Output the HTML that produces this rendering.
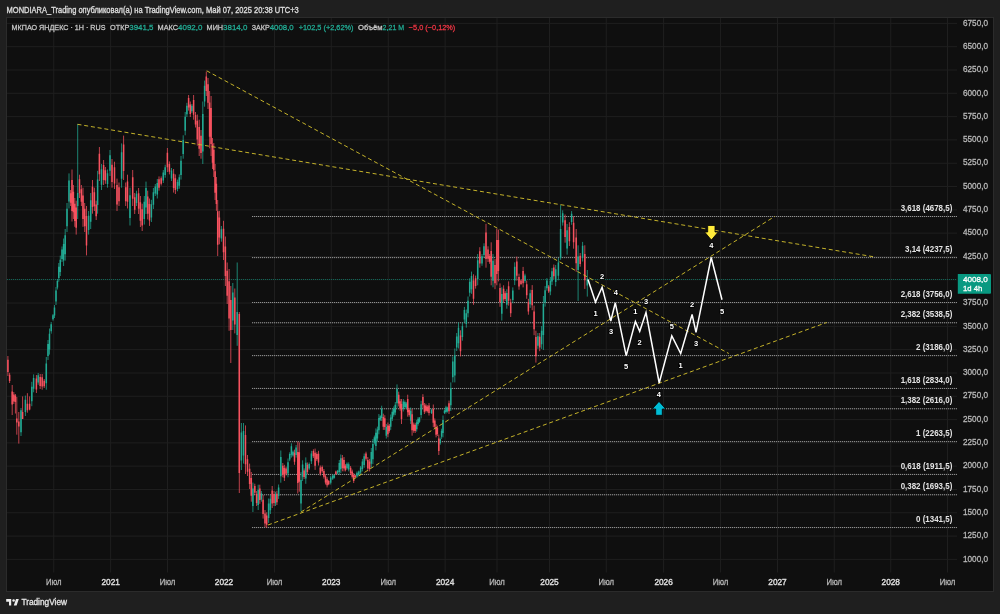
<!DOCTYPE html>
<html><head><meta charset="utf-8"><title>МКПАО ЯНДЕКС chart</title>
<style>html,body{margin:0;padding:0;background:#1f1f1f;width:1000px;height:614px;overflow:hidden}svg{display:block}text{font-family:"Liberation Sans",Arial,sans-serif}</style></head><body>
<svg width="1000" height="614" viewBox="0 0 1000 614">
<rect x="0" y="0" width="1000" height="614" fill="#1f1f1f"/>
<rect x="6.5" y="17.5" width="987" height="574" fill="#0f0f0f" stroke="#2b2b2b" stroke-width="1"/>
<path d="M53.75 18V572.5M110.65 18V572.5M167.50 18V572.5M224.00 18V572.5M274.50 18V572.5M331.25 18V572.5M388.30 18V572.5M445.10 18V572.5M497.00 18V572.5M549.50 18V572.5M606.25 18V572.5M663.60 18V572.5M720.55 18V572.5M777.50 18V572.5M834.25 18V572.5M890.75 18V572.5M947.50 18V572.5M7 23.40H957M7 46.70H957M7 70.01H957M7 93.31H957M7 116.62H957M7 139.92H957M7 163.22H957M7 186.53H957M7 209.83H957M7 233.14H957M7 256.44H957M7 279.75H957M7 303.05H957M7 326.35H957M7 349.66H957M7 372.96H957M7 396.27H957M7 419.57H957M7 442.87H957M7 466.18H957M7 489.48H957M7 512.79H957M7 536.09H957M7 559.39H957" stroke="#1f1f1f" stroke-width="1" fill="none"/>
<path d="M252 216.50H957M252 257.61H957M252 302.49H957M252 322.76H957M252 355.62H957M252 388.44H957M252 408.76H957M252 441.62H957M252 474.43H957M252 494.75H957M252 527.56H957" stroke="#2e2e2e" stroke-width="1" fill="none"/>
<path d="M252 216.50H957M252 257.61H957M252 302.49H957M252 322.76H957M252 355.62H957M252 388.44H957M252 408.76H957M252 441.62H957M252 474.43H957M252 494.75H957M252 527.56H957" stroke="#929292" stroke-width="1" stroke-dasharray="1 1" fill="none"/>
<path d="M7 279.5H957" stroke="#089981" stroke-width="1" stroke-dasharray="1 1" fill="none" opacity="0.6"/>
<path d="M21.00 408.00V436.00M25.40 395.60V416.00M31.80 381.80V406.20M33.60 374.40V392.30M38.20 373.00V384.80M46.30 357.00V389.70M48.00 340.00V360.00M49.50 328.50V354.60M51.20 322.00V333.70M53.00 314.00V320.70M54.50 305.00V318.00M56.00 287.00V305.00M57.40 279.00V289.50M58.80 263.00V281.70M60.30 255.60V276.00M62.00 246.50V262.00M63.60 238.50V266.00M65.20 229.00V260.60M67.00 203.00V232.00M69.00 173.40V208.50M77.70 124.00V219.00M88.60 211.00V234.60M90.70 193.00V229.00M97.60 170.80V213.70M101.50 164.00V190.00M107.50 169.50V187.70M110.00 150.00V176.00M121.60 143.40V187.70M130.00 187.70V225.50M136.50 190.70V206.00M144.30 196.00V224.60M146.00 181.60V214.00M151.40 199.80V222.00M153.40 188.00V209.00M155.30 184.00V196.00M157.30 179.00V198.50M163.30 170.00V183.00M165.20 164.70V177.70M171.50 168.00V181.00M177.50 179.60V191.30M179.30 174.40V188.70M181.00 156.00V179.60M183.20 135.30V158.70M185.20 112.00V135.30M186.90 102.80V117.00M191.90 104.00V113.00M202.80 101.50V164.00M204.60 80.60V106.70M221.40 226.00V241.70M232.80 283.00V330.00M237.20 262.50V345.80M241.40 423.00V470.00M243.50 423.00V463.60M252.90 482.60V512.00M258.20 484.70V510.00M261.40 491.00V501.70M268.60 498.50V522.90M270.40 495.00V514.00M275.50 491.70V506.00M278.60 484.50V498.90M280.80 450.50V482.70M288.00 458.50V477.30M289.70 452.30V461.20M291.40 443.30V457.60M293.00 450.50V456.70M296.10 445.00V457.60M301.00 472.00V511.40M302.60 460.30V481.00M305.80 457.40V483.80M309.20 462.50V469.90M311.40 450.80V464.00M330.70 475.70V484.50M332.70 474.30V480.00M334.30 474.30V478.60M337.60 469.90V474.30M339.30 460.00V475.00M340.80 454.50V473.00M347.00 462.40V469.60M348.70 462.40V471.40M357.00 471.40V477.70M358.80 470.50V475.90M360.60 466.00V474.00M362.40 458.90V471.40M364.20 453.50V467.80M371.30 448.00V467.80M372.90 439.00V464.20M374.40 435.50V444.50M375.90 428.40V450.40M377.40 426.60V441.60M378.90 414.00V434.30M380.30 415.20V421.00M381.70 405.70V421.00M386.30 424.00V438.60M390.70 414.50V429.90M392.30 409.30V421.00M393.80 406.40V416.70M395.30 402.00V415.20M397.00 384.40V407.90M403.30 399.00V411.50M404.90 400.50V408.60M406.30 402.00V409.30M410.70 407.50V424.00M416.70 419.90V431.60M418.10 417.00V425.70M419.50 417.00V422.80M421.10 400.80V418.40M431.50 408.90V414.00M440.20 437.40V444.80M441.60 428.70V438.90M443.00 415.50V437.40M444.50 409.60V414.00M446.00 405.80V413.60M447.50 406.70V412.50M450.80 382.40V411.00M452.80 356.40V382.40M454.80 348.50V382.40M456.70 333.00V351.00M458.50 322.50V348.50M462.40 322.50V340.70M464.40 306.90V322.50M466.30 309.50V327.70M468.00 296.50V317.30M469.70 278.20V296.50M471.50 271.60V293.80M477.70 254.00V285.30M482.00 254.00V265.80M484.00 243.30V258.00M493.00 254.00V287.30M501.80 287.30V320.50M506.80 289.20V308.70M512.80 287.40V303.30M514.70 262.30V285.10M525.00 273.70V282.80M530.20 289.70V307.90M537.90 333.00V348.90M541.60 326.10V348.90M543.40 296.00V350.00M545.10 286.10V306.60M546.90 278.10V290.70M550.40 277.00V295.20M552.00 267.90V285.00M555.70 265.00V286.30M558.40 258.00V280.30M560.60 205.10V259.80M562.70 210.30V225.60M567.10 224.00V254.70M571.60 211.10V224.80M578.10 245.30V300.90M582.60 241.90V261.50M587.30 270.00V296.60" stroke="#22ab94" stroke-width="0.75" fill="none"/>
<path d="M7.90 356.00V376.00M9.60 372.80V383.00M12.20 385.00V415.00M13.80 392.00V404.00M15.40 394.00V413.50M16.80 397.00V434.70M18.80 412.00V443.60M22.60 396.40V418.40M27.40 393.20V412.70M29.60 396.40V410.30M36.40 375.00V393.00M40.20 374.00V389.00M42.20 374.00V389.70M44.20 379.00V388.00M70.60 190.00V206.00M72.00 169.50V221.50M73.40 185.00V219.00M74.80 198.00V226.80M76.20 200.70V234.60M79.50 174.70V198.00M81.40 185.00V206.00M83.00 187.70V226.80M84.70 203.00V232.00M86.50 206.00V255.40M92.50 180.00V213.70M94.40 187.70V211.00M96.20 200.70V220.00M99.40 147.00V181.00M103.60 160.00V185.00M105.40 167.00V183.80M112.00 159.00V187.70M114.50 161.70V189.00M117.00 178.60V211.00M119.00 182.50V206.00M123.60 135.60V180.00M125.70 182.50V206.00M127.50 174.70V208.50M132.70 170.00V206.00M134.70 193.00V214.00M138.60 188.00V214.00M140.40 196.00V227.00M142.20 203.70V231.00M147.70 190.70V219.40M149.50 198.50V225.90M159.00 176.40V190.70M161.20 176.40V185.50M167.40 148.00V172.00M169.40 161.40V174.40M173.60 169.00V192.60M175.40 174.40V194.00M188.60 95.00V110.60M190.30 101.50V117.00M193.60 95.00V119.70M195.50 112.00V127.50M197.30 114.50V145.70M199.20 119.70V156.00M201.00 130.00V158.70M206.30 71.50V96.00M208.00 78.00V109.00M209.60 91.00V148.30M211.10 96.00V156.00M212.50 138.00V169.00M213.80 143.00V177.00M215.10 164.00V200.00M216.40 177.00V210.80M217.70 200.00V256.00M219.40 210.80V244.30M223.50 220.80V260.00M225.40 236.50V286.00M227.20 262.50V304.00M229.10 269.00V330.80M230.80 286.00V363.00M234.80 288.50V333.40M239.30 312.00V493.00M245.50 425.40V474.00M247.50 455.00V476.00M249.60 463.60V489.00M251.30 472.00V501.70M254.80 483.70V495.00M256.60 491.00V506.00M259.80 484.70V503.80M263.10 495.00V518.60M265.00 510.00V527.00M266.70 512.30V528.00M272.20 486.00V508.00M274.00 491.00V506.00M276.90 490.80V505.00M282.80 463.00V477.30M284.40 464.80V481.00M286.10 466.60V475.50M294.50 449.60V464.80M297.80 441.50V493.50M299.30 442.40V491.70M304.10 468.40V479.00M307.40 462.50V474.30M313.40 449.30V458.00M315.10 448.60V469.90M316.80 452.30V461.00M318.50 450.80V465.50M320.30 465.50V475.70M322.20 465.50V472.80M323.90 469.00V478.60M325.50 474.30V484.50M327.10 477.20V487.40M328.70 480.00V485.20M335.90 470.60V475.00M342.40 455.00V471.30M344.00 457.00V471.40M345.50 464.20V471.40M350.60 466.00V475.00M352.20 469.60V478.60M353.70 473.00V483.00M355.30 475.00V477.70M366.00 451.70V460.60M367.80 457.00V471.40M369.60 458.90V471.40M383.30 413.70V429.90M384.80 415.20V429.90M387.90 422.50V437.20M389.30 424.00V432.80M398.70 391.70V406.40M400.10 399.00V410.80M401.50 399.00V424.00M407.70 394.70V416.70M409.20 407.90V416.70M412.10 408.90V435.70M413.70 422.50V432.80M415.20 422.80V433.00M422.90 394.20V408.00M424.40 403.00V414.00M425.90 403.70V412.50M427.40 405.20V412.50M429.00 403.00V415.50M433.30 404.50V427.20M434.80 418.40V428.70M436.10 424.30V437.40M437.40 425.70V436.00M438.80 434.50V455.00M449.00 400.60V414.00M460.50 330.30V356.40M473.50 274.30V304.80M475.60 275.60V288.60M479.80 247.20V267.70M486.00 223.80V267.70M488.00 246.30V262.00M489.60 254.00V263.80M491.20 242.30V285.30M495.00 259.00V289.20M496.80 228.70V285.30M498.40 229.60V281.40M500.00 283.40V306.80M503.60 285.30V302.90M505.20 291.20V301.00M508.60 281.40V305.60M510.70 298.80V317.00M516.80 256.60V280.60M519.00 273.70V289.70M521.00 279.40V285.10M523.10 266.90V287.40M526.70 280.60V298.80M528.40 298.80V314.70M532.20 285.10V310.20M534.10 305.60V335.20M535.90 330.70V362.60M539.70 333.00V351.20M548.70 285.00V293.00M553.80 264.50V279.30M565.10 214.50V242.70M569.40 222.20V246.00M573.60 216.20V248.70M576.20 229.00V271.80M580.20 253.00V266.70M584.80 245.30V288.90" stroke="#f7525f" stroke-width="0.75" fill="none"/>
<path d="M20.25 410.30h1.50v21.90h-1.50zM24.65 399.68h1.50v12.24h-1.50zM31.05 386.68h1.50v14.64h-1.50zM32.85 377.98h1.50v10.74h-1.50zM37.45 375.36h1.50v7.08h-1.50zM45.55 363.54h1.50v19.62h-1.50zM47.25 344.00h1.50v12.00h-1.50zM48.75 333.72h1.50v15.66h-1.50zM50.45 324.34h1.50v7.02h-1.50zM52.25 315.34h1.50v4.02h-1.50zM53.75 307.60h1.50v7.80h-1.50zM55.25 290.60h1.50v10.80h-1.50zM56.65 281.10h1.50v6.30h-1.50zM58.05 266.74h1.50v11.22h-1.50zM59.55 259.68h1.50v12.24h-1.50zM61.25 249.60h1.50v9.30h-1.50zM62.85 244.00h1.50v16.50h-1.50zM64.45 235.32h1.50v18.96h-1.50zM66.25 208.80h1.50v17.40h-1.50zM68.25 180.42h1.50v21.06h-1.50zM76.95 193.00h1.50v13.00h-1.50zM87.85 215.72h1.50v14.16h-1.50zM89.95 200.20h1.50v21.60h-1.50zM96.85 179.38h1.50v25.74h-1.50zM100.75 169.20h1.50v15.60h-1.50zM106.75 173.14h1.50v10.92h-1.50zM109.25 155.20h1.50v15.60h-1.50zM120.85 152.26h1.50v26.58h-1.50zM129.25 195.26h1.50v22.68h-1.50zM135.75 193.76h1.50v9.18h-1.50zM143.55 201.72h1.50v17.16h-1.50zM145.25 188.08h1.50v19.44h-1.50zM150.65 204.24h1.50v13.32h-1.50zM152.65 192.20h1.50v12.60h-1.50zM154.55 186.40h1.50v7.20h-1.50zM156.55 182.90h1.50v11.70h-1.50zM162.55 172.60h1.50v7.80h-1.50zM164.45 167.30h1.50v7.80h-1.50zM170.75 170.60h1.50v7.80h-1.50zM176.75 181.94h1.50v7.02h-1.50zM178.55 177.26h1.50v8.58h-1.50zM180.25 160.72h1.50v14.16h-1.50zM182.45 139.98h1.50v14.04h-1.50zM184.45 116.66h1.50v13.98h-1.50zM186.15 105.64h1.50v8.52h-1.50zM191.15 105.80h1.50v5.40h-1.50zM202.05 114.00h1.50v37.50h-1.50zM203.85 85.82h1.50v15.66h-1.50zM220.65 229.14h1.50v9.42h-1.50zM232.05 292.40h1.50v28.20h-1.50zM236.45 312.00h1.50v23.00h-1.50zM240.65 432.40h1.50v28.20h-1.50zM242.75 431.12h1.50v24.36h-1.50zM252.15 488.48h1.50v17.64h-1.50zM257.45 489.76h1.50v15.18h-1.50zM260.65 493.14h1.50v6.42h-1.50zM267.85 503.38h1.50v14.64h-1.50zM269.65 498.80h1.50v11.40h-1.50zM274.75 494.56h1.50v8.58h-1.50zM277.85 487.38h1.50v8.64h-1.50zM280.05 456.94h1.50v19.32h-1.50zM287.25 462.26h1.50v11.28h-1.50zM288.95 454.08h1.50v5.34h-1.50zM290.65 446.16h1.50v8.58h-1.50zM292.25 451.74h1.50v3.72h-1.50zM295.35 447.52h1.50v7.56h-1.50zM300.25 479.88h1.50v23.64h-1.50zM301.85 464.44h1.50v12.42h-1.50zM305.05 462.68h1.50v15.84h-1.50zM308.45 463.98h1.50v4.44h-1.50zM310.65 453.44h1.50v7.92h-1.50zM329.95 477.46h1.50v5.28h-1.50zM331.95 475.44h1.50v3.42h-1.50zM333.55 475.16h1.50v2.58h-1.50zM336.85 470.78h1.50v2.64h-1.50zM338.55 463.00h1.50v9.00h-1.50zM340.05 458.20h1.50v11.10h-1.50zM346.25 463.84h1.50v4.32h-1.50zM347.95 464.20h1.50v5.40h-1.50zM356.25 472.66h1.50v3.78h-1.50zM358.05 471.58h1.50v3.24h-1.50zM359.85 467.60h1.50v4.80h-1.50zM361.65 461.40h1.50v7.50h-1.50zM363.45 456.36h1.50v8.58h-1.50zM370.55 451.96h1.50v11.88h-1.50zM372.15 444.04h1.50v15.12h-1.50zM373.65 437.30h1.50v5.40h-1.50zM375.15 432.80h1.50v13.20h-1.50zM376.65 429.60h1.50v9.00h-1.50zM378.15 418.06h1.50v12.18h-1.50zM379.55 416.36h1.50v3.48h-1.50zM380.95 408.76h1.50v9.18h-1.50zM385.55 426.92h1.50v8.76h-1.50zM389.95 417.58h1.50v9.24h-1.50zM391.55 411.64h1.50v7.02h-1.50zM393.05 408.46h1.50v6.18h-1.50zM394.55 404.64h1.50v7.92h-1.50zM396.25 389.10h1.50v14.10h-1.50zM402.55 401.50h1.50v7.50h-1.50zM404.15 402.12h1.50v4.86h-1.50zM405.55 403.46h1.50v4.38h-1.50zM409.95 410.80h1.50v9.90h-1.50zM415.95 422.24h1.50v7.02h-1.50zM417.35 418.74h1.50v5.22h-1.50zM418.75 418.16h1.50v3.48h-1.50zM420.35 404.32h1.50v10.56h-1.50zM430.75 409.92h1.50v3.06h-1.50zM439.45 438.88h1.50v4.44h-1.50zM440.85 430.74h1.50v6.12h-1.50zM442.25 419.88h1.50v13.14h-1.50zM443.75 410.48h1.50v2.64h-1.50zM445.25 407.36h1.50v4.68h-1.50zM446.75 407.86h1.50v3.48h-1.50zM450.05 388.12h1.50v17.16h-1.50zM452.05 361.60h1.50v15.60h-1.50zM454.05 355.28h1.50v20.34h-1.50zM455.95 336.60h1.50v10.80h-1.50zM457.75 327.70h1.50v15.60h-1.50zM461.65 326.14h1.50v10.92h-1.50zM463.65 310.02h1.50v9.36h-1.50zM465.55 313.14h1.50v10.92h-1.50zM467.25 300.66h1.50v12.48h-1.50zM468.95 281.86h1.50v10.98h-1.50zM470.75 276.04h1.50v13.32h-1.50zM476.95 260.26h1.50v18.78h-1.50zM481.25 256.36h1.50v7.08h-1.50zM483.25 246.24h1.50v8.82h-1.50zM492.25 260.66h1.50v19.98h-1.50zM501.05 293.94h1.50v19.92h-1.50zM506.05 293.10h1.50v11.70h-1.50zM512.05 290.58h1.50v9.54h-1.50zM513.95 266.86h1.50v13.68h-1.50zM524.25 275.52h1.50v5.46h-1.50zM529.45 293.34h1.50v10.92h-1.50zM537.15 336.18h1.50v9.54h-1.50zM540.85 330.66h1.50v13.68h-1.50zM542.65 304.00h1.50v31.00h-1.50zM544.35 290.20h1.50v12.30h-1.50zM546.15 280.62h1.50v7.56h-1.50zM549.65 280.64h1.50v10.92h-1.50zM551.25 271.32h1.50v10.26h-1.50zM554.95 269.26h1.50v12.78h-1.50zM557.65 262.46h1.50v13.38h-1.50zM559.85 229.00h1.50v29.00h-1.50zM561.95 213.36h1.50v9.18h-1.50zM566.35 230.14h1.50v18.42h-1.50zM570.85 213.84h1.50v8.22h-1.50zM577.35 256.40h1.50v13.60h-1.50zM581.85 245.82h1.50v11.76h-1.50zM586.55 278.60h1.50v6.90h-1.50z" fill="#22ab94"/>
<path d="M7.15 359.80h1.50v12.20h-1.50zM8.85 374.84h1.50v6.12h-1.50zM11.45 391.50h1.50v13.00h-1.50zM13.05 394.40h1.50v7.20h-1.50zM14.65 395.60h1.50v6.40h-1.50zM16.05 418.40h1.50v4.10h-1.50zM18.05 421.60h1.50v4.90h-1.50zM21.85 412.00h1.50v7.00h-1.50zM26.65 403.70h1.50v6.60h-1.50zM28.85 403.70h1.50v5.70h-1.50zM35.65 378.60h1.50v10.80h-1.50zM39.45 377.00h1.50v9.00h-1.50zM41.45 377.14h1.50v9.42h-1.50zM43.45 380.80h1.50v5.40h-1.50zM69.85 193.20h1.50v9.60h-1.50zM71.25 179.90h1.50v31.20h-1.50zM72.65 191.80h1.50v20.40h-1.50zM74.05 203.76h1.50v17.28h-1.50zM75.45 207.48h1.50v20.34h-1.50zM78.75 179.36h1.50v13.98h-1.50zM80.65 189.20h1.50v12.60h-1.50zM82.25 195.52h1.50v23.46h-1.50zM83.95 208.80h1.50v17.40h-1.50zM85.75 215.88h1.50v29.64h-1.50zM91.75 186.74h1.50v20.22h-1.50zM93.65 192.36h1.50v13.98h-1.50zM95.45 204.56h1.50v11.58h-1.50zM98.65 153.80h1.50v20.40h-1.50zM102.85 165.00h1.50v15.00h-1.50zM104.65 170.36h1.50v10.08h-1.50zM111.25 164.74h1.50v17.22h-1.50zM113.75 167.16h1.50v16.38h-1.50zM116.25 185.08h1.50v19.44h-1.50zM118.25 187.20h1.50v14.10h-1.50zM122.85 144.48h1.50v26.64h-1.50zM124.95 187.20h1.50v14.10h-1.50zM126.75 181.46h1.50v20.28h-1.50zM131.95 177.20h1.50v21.60h-1.50zM133.95 197.20h1.50v12.60h-1.50zM137.85 193.20h1.50v15.60h-1.50zM139.65 202.20h1.50v18.60h-1.50zM141.45 209.16h1.50v16.38h-1.50zM146.95 196.44h1.50v17.22h-1.50zM148.75 203.98h1.50v16.44h-1.50zM158.25 179.26h1.50v8.58h-1.50zM160.45 178.22h1.50v5.46h-1.50zM166.65 152.80h1.50v14.40h-1.50zM168.65 164.00h1.50v7.80h-1.50zM172.85 173.72h1.50v14.16h-1.50zM174.65 178.32h1.50v11.76h-1.50zM187.85 98.12h1.50v9.36h-1.50zM189.55 104.60h1.50v9.30h-1.50zM192.85 99.94h1.50v14.82h-1.50zM194.75 115.10h1.50v9.30h-1.50zM196.55 120.74h1.50v18.72h-1.50zM198.45 126.96h1.50v21.78h-1.50zM200.25 135.74h1.50v17.22h-1.50zM205.55 76.40h1.50v14.70h-1.50zM207.25 84.20h1.50v18.60h-1.50zM208.85 102.46h1.50v34.38h-1.50zM210.35 108.00h1.50v36.00h-1.50zM211.75 144.20h1.50v18.60h-1.50zM213.05 149.80h1.50v20.40h-1.50zM214.35 171.20h1.50v21.60h-1.50zM215.65 183.76h1.50v20.28h-1.50zM216.95 211.20h1.50v33.60h-1.50zM218.65 217.50h1.50v20.10h-1.50zM222.75 228.64h1.50v23.52h-1.50zM224.65 246.40h1.50v29.70h-1.50zM226.45 270.80h1.50v24.90h-1.50zM228.35 281.36h1.50v37.08h-1.50zM230.05 300.00h1.50v30.00h-1.50zM234.05 297.48h1.50v26.94h-1.50zM238.55 314.00h1.50v159.00h-1.50zM244.75 435.12h1.50v29.16h-1.50zM246.75 459.20h1.50v12.60h-1.50zM248.85 468.68h1.50v15.24h-1.50zM250.55 477.94h1.50v17.82h-1.50zM254.05 485.96h1.50v6.78h-1.50zM255.85 494.00h1.50v9.00h-1.50zM259.05 488.52h1.50v11.46h-1.50zM262.35 499.72h1.50v14.16h-1.50zM264.25 513.40h1.50v10.20h-1.50zM265.95 515.44h1.50v9.42h-1.50zM271.45 490.40h1.50v13.20h-1.50zM273.25 494.00h1.50v9.00h-1.50zM276.15 493.64h1.50v8.52h-1.50zM282.05 465.86h1.50v8.58h-1.50zM283.65 468.04h1.50v9.72h-1.50zM285.35 468.38h1.50v5.34h-1.50zM293.75 452.64h1.50v9.12h-1.50zM297.05 451.90h1.50v31.20h-1.50zM298.55 452.26h1.50v29.58h-1.50zM303.35 470.52h1.50v6.36h-1.50zM306.65 464.86h1.50v7.08h-1.50zM312.65 451.04h1.50v5.22h-1.50zM314.35 452.86h1.50v12.78h-1.50zM316.05 454.04h1.50v5.22h-1.50zM317.75 453.74h1.50v8.82h-1.50zM319.55 467.54h1.50v6.12h-1.50zM321.45 466.96h1.50v4.38h-1.50zM323.15 470.92h1.50v5.76h-1.50zM324.75 476.34h1.50v6.12h-1.50zM326.35 479.24h1.50v6.12h-1.50zM327.95 481.04h1.50v3.12h-1.50zM335.15 471.48h1.50v2.64h-1.50zM341.65 458.26h1.50v9.78h-1.50zM343.25 459.88h1.50v8.64h-1.50zM344.75 465.64h1.50v4.32h-1.50zM349.85 467.80h1.50v5.40h-1.50zM351.45 471.40h1.50v5.40h-1.50zM352.95 475.00h1.50v6.00h-1.50zM354.55 475.54h1.50v1.62h-1.50zM365.25 453.48h1.50v5.34h-1.50zM367.05 459.88h1.50v8.64h-1.50zM368.85 461.40h1.50v7.50h-1.50zM382.55 416.94h1.50v9.72h-1.50zM384.05 418.14h1.50v8.82h-1.50zM387.15 425.44h1.50v8.82h-1.50zM388.55 425.76h1.50v5.28h-1.50zM397.95 394.64h1.50v8.82h-1.50zM399.35 401.36h1.50v7.08h-1.50zM400.75 404.00h1.50v15.00h-1.50zM406.95 399.10h1.50v13.20h-1.50zM408.45 409.66h1.50v5.28h-1.50zM411.35 414.26h1.50v16.08h-1.50zM412.95 424.56h1.50v6.18h-1.50zM414.45 424.84h1.50v6.12h-1.50zM422.15 396.96h1.50v8.28h-1.50zM423.65 405.20h1.50v6.60h-1.50zM425.15 405.46h1.50v5.28h-1.50zM426.65 406.66h1.50v4.38h-1.50zM428.25 405.50h1.50v7.50h-1.50zM432.55 409.04h1.50v13.62h-1.50zM434.05 420.46h1.50v6.18h-1.50zM435.35 426.92h1.50v7.86h-1.50zM436.65 427.76h1.50v6.18h-1.50zM438.05 438.60h1.50v12.30h-1.50zM448.25 403.28h1.50v8.04h-1.50zM459.75 335.52h1.50v15.66h-1.50zM472.75 280.40h1.50v18.30h-1.50zM474.85 278.20h1.50v7.80h-1.50zM479.05 251.30h1.50v12.30h-1.50zM485.25 232.58h1.50v26.34h-1.50zM487.25 249.44h1.50v9.42h-1.50zM488.85 255.96h1.50v5.88h-1.50zM490.45 250.90h1.50v25.80h-1.50zM494.25 265.04h1.50v18.12h-1.50zM496.05 240.02h1.50v33.96h-1.50zM497.65 239.96h1.50v31.08h-1.50zM499.25 288.08h1.50v14.04h-1.50zM502.85 288.82h1.50v10.56h-1.50zM504.45 293.16h1.50v5.88h-1.50zM507.85 286.24h1.50v14.52h-1.50zM509.95 302.44h1.50v10.92h-1.50zM516.05 261.40h1.50v14.40h-1.50zM518.25 276.90h1.50v9.60h-1.50zM520.25 280.54h1.50v3.42h-1.50zM522.35 271.00h1.50v12.30h-1.50zM525.95 284.24h1.50v10.92h-1.50zM527.65 301.98h1.50v9.54h-1.50zM531.45 290.12h1.50v15.06h-1.50zM533.35 311.52h1.50v17.76h-1.50zM535.15 337.08h1.50v19.14h-1.50zM538.95 336.64h1.50v10.92h-1.50zM547.95 286.60h1.50v4.80h-1.50zM553.05 267.46h1.50v8.88h-1.50zM564.35 220.14h1.50v16.92h-1.50zM568.65 226.96h1.50v14.28h-1.50zM572.85 222.70h1.50v19.50h-1.50zM575.45 237.56h1.50v25.68h-1.50zM579.45 255.74h1.50v8.22h-1.50zM584.05 254.02h1.50v26.16h-1.50z" fill="#f7525f"/>
<path d="M77.50 124.30L874.50 256.90M206.70 70.80L728.80 353.50M301.00 512.00L774.80 216.40M268.00 525.00L826.70 322.50" stroke="#cdbb2b" stroke-width="0.95" stroke-dasharray="4 2.8" fill="none"/>
<polyline points="588.0,279.4 595.5,302.1 602.1,287.3 610.8,321.0 615.3,302.8 626.2,355.7 635.4,321.5 639.7,331.3 646.0,312.5 659.2,383.0 671.8,335.8 680.7,353.5 692.1,314.5 696.0,332.4 711.2,257.5 722.0,299.8" stroke="#ffffff" stroke-width="1.5" fill="none" stroke-linejoin="miter"/>
<text x="595.5" y="313.5" font-size="7.5" font-weight="bold" fill="#ffffff" text-anchor="middle" dominant-baseline="central" stroke="#000" stroke-width="1.6" paint-order="stroke">1</text>
<text x="602.0" y="276.4" font-size="7.5" font-weight="bold" fill="#ffffff" text-anchor="middle" dominant-baseline="central" stroke="#000" stroke-width="1.6" paint-order="stroke">2</text>
<text x="611.2" y="331.8" font-size="7.5" font-weight="bold" fill="#ffffff" text-anchor="middle" dominant-baseline="central" stroke="#000" stroke-width="1.6" paint-order="stroke">3</text>
<text x="615.8" y="292.6" font-size="7.5" font-weight="bold" fill="#ffffff" text-anchor="middle" dominant-baseline="central" stroke="#000" stroke-width="1.6" paint-order="stroke">4</text>
<text x="626.2" y="366.0" font-size="7.5" font-weight="bold" fill="#ffffff" text-anchor="middle" dominant-baseline="central" stroke="#000" stroke-width="1.6" paint-order="stroke">5</text>
<text x="635.4" y="311.3" font-size="7.5" font-weight="bold" fill="#ffffff" text-anchor="middle" dominant-baseline="central" stroke="#000" stroke-width="1.6" paint-order="stroke">1</text>
<text x="639.7" y="342.5" font-size="7.5" font-weight="bold" fill="#ffffff" text-anchor="middle" dominant-baseline="central" stroke="#000" stroke-width="1.6" paint-order="stroke">2</text>
<text x="646.0" y="301.5" font-size="7.5" font-weight="bold" fill="#ffffff" text-anchor="middle" dominant-baseline="central" stroke="#000" stroke-width="1.6" paint-order="stroke">3</text>
<text x="658.8" y="394.2" font-size="7.5" font-weight="bold" fill="#ffffff" text-anchor="middle" dominant-baseline="central" stroke="#000" stroke-width="1.6" paint-order="stroke">4</text>
<text x="671.8" y="326.0" font-size="7.5" font-weight="bold" fill="#ffffff" text-anchor="middle" dominant-baseline="central" stroke="#000" stroke-width="1.6" paint-order="stroke">5</text>
<text x="680.7" y="365.0" font-size="7.5" font-weight="bold" fill="#ffffff" text-anchor="middle" dominant-baseline="central" stroke="#000" stroke-width="1.6" paint-order="stroke">1</text>
<text x="692.1" y="304.0" font-size="7.5" font-weight="bold" fill="#ffffff" text-anchor="middle" dominant-baseline="central" stroke="#000" stroke-width="1.6" paint-order="stroke">2</text>
<text x="696.0" y="343.8" font-size="7.5" font-weight="bold" fill="#ffffff" text-anchor="middle" dominant-baseline="central" stroke="#000" stroke-width="1.6" paint-order="stroke">3</text>
<text x="711.4" y="245.8" font-size="7.5" font-weight="bold" fill="#ffffff" text-anchor="middle" dominant-baseline="central" stroke="#000" stroke-width="1.6" paint-order="stroke">4</text>
<text x="722.0" y="311.2" font-size="7.5" font-weight="bold" fill="#ffffff" text-anchor="middle" dominant-baseline="central" stroke="#000" stroke-width="1.6" paint-order="stroke">5</text>
<path d="M707.7 225.5H715V232H718.2L711.4 240L704.6 232H707.7Z" fill="#ffeb3b" stroke="#000" stroke-width="0.8"/>
<path d="M659 401.4L665.8 409H662.3V415.3H655.7V409H652.2Z" fill="#00bcd4" stroke="#000" stroke-width="0.8"/>
<text x="952.30" y="210.60" font-size="8.70" fill="#e4e4e4" font-weight="bold" text-anchor="end" textLength="51.62" lengthAdjust="spacingAndGlyphs">3,618 (4678,5)</text>
<text x="952.30" y="251.71" font-size="8.70" fill="#e4e4e4" font-weight="bold" text-anchor="end" textLength="47.21" lengthAdjust="spacingAndGlyphs">3,14 (4237,5)</text>
<text x="952.30" y="296.59" font-size="8.70" fill="#e4e4e4" font-weight="bold" text-anchor="end" textLength="51.62" lengthAdjust="spacingAndGlyphs">2,618 (3756,0)</text>
<text x="952.30" y="316.86" font-size="8.70" fill="#e4e4e4" font-weight="bold" text-anchor="end" textLength="51.62" lengthAdjust="spacingAndGlyphs">2,382 (3538,5)</text>
<text x="952.30" y="349.72" font-size="8.70" fill="#e4e4e4" font-weight="bold" text-anchor="end" textLength="36.18" lengthAdjust="spacingAndGlyphs">2 (3186,0)</text>
<text x="952.30" y="382.54" font-size="8.70" fill="#e4e4e4" font-weight="bold" text-anchor="end" textLength="51.62" lengthAdjust="spacingAndGlyphs">1,618 (2834,0)</text>
<text x="952.30" y="402.86" font-size="8.70" fill="#e4e4e4" font-weight="bold" text-anchor="end" textLength="51.62" lengthAdjust="spacingAndGlyphs">1,382 (2616,0)</text>
<text x="952.30" y="435.72" font-size="8.70" fill="#e4e4e4" font-weight="bold" text-anchor="end" textLength="36.18" lengthAdjust="spacingAndGlyphs">1 (2263,5)</text>
<text x="952.30" y="468.53" font-size="8.70" fill="#e4e4e4" font-weight="bold" text-anchor="end" textLength="51.62" lengthAdjust="spacingAndGlyphs">0,618 (1911,5)</text>
<text x="952.30" y="488.85" font-size="8.70" fill="#e4e4e4" font-weight="bold" text-anchor="end" textLength="51.62" lengthAdjust="spacingAndGlyphs">0,382 (1693,5)</text>
<text x="952.30" y="521.66" font-size="8.70" fill="#e4e4e4" font-weight="bold" text-anchor="end" textLength="36.18" lengthAdjust="spacingAndGlyphs">0 (1341,5)</text>
<text x="988.00" y="25.60" font-size="8.50" fill="#b8b8b8" text-anchor="end" textLength="25.00" lengthAdjust="spacingAndGlyphs" stroke="#b8b8b8" stroke-width="0.28">6750,0</text>
<text x="988.00" y="48.90" font-size="8.50" fill="#b8b8b8" text-anchor="end" textLength="25.00" lengthAdjust="spacingAndGlyphs" stroke="#b8b8b8" stroke-width="0.28">6500,0</text>
<text x="988.00" y="72.21" font-size="8.50" fill="#b8b8b8" text-anchor="end" textLength="25.00" lengthAdjust="spacingAndGlyphs" stroke="#b8b8b8" stroke-width="0.28">6250,0</text>
<text x="988.00" y="95.51" font-size="8.50" fill="#b8b8b8" text-anchor="end" textLength="25.00" lengthAdjust="spacingAndGlyphs" stroke="#b8b8b8" stroke-width="0.28">6000,0</text>
<text x="988.00" y="118.82" font-size="8.50" fill="#b8b8b8" text-anchor="end" textLength="25.00" lengthAdjust="spacingAndGlyphs" stroke="#b8b8b8" stroke-width="0.28">5750,0</text>
<text x="988.00" y="142.12" font-size="8.50" fill="#b8b8b8" text-anchor="end" textLength="25.00" lengthAdjust="spacingAndGlyphs" stroke="#b8b8b8" stroke-width="0.28">5500,0</text>
<text x="988.00" y="165.42" font-size="8.50" fill="#b8b8b8" text-anchor="end" textLength="25.00" lengthAdjust="spacingAndGlyphs" stroke="#b8b8b8" stroke-width="0.28">5250,0</text>
<text x="988.00" y="188.73" font-size="8.50" fill="#b8b8b8" text-anchor="end" textLength="25.00" lengthAdjust="spacingAndGlyphs" stroke="#b8b8b8" stroke-width="0.28">5000,0</text>
<text x="988.00" y="212.03" font-size="8.50" fill="#b8b8b8" text-anchor="end" textLength="25.00" lengthAdjust="spacingAndGlyphs" stroke="#b8b8b8" stroke-width="0.28">4750,0</text>
<text x="988.00" y="235.34" font-size="8.50" fill="#b8b8b8" text-anchor="end" textLength="25.00" lengthAdjust="spacingAndGlyphs" stroke="#b8b8b8" stroke-width="0.28">4500,0</text>
<text x="988.00" y="258.64" font-size="8.50" fill="#b8b8b8" text-anchor="end" textLength="25.00" lengthAdjust="spacingAndGlyphs" stroke="#b8b8b8" stroke-width="0.28">4250,0</text>
<text x="988.00" y="281.95" font-size="8.50" fill="#b8b8b8" text-anchor="end" textLength="25.00" lengthAdjust="spacingAndGlyphs" stroke="#b8b8b8" stroke-width="0.28">4000,0</text>
<text x="988.00" y="305.25" font-size="8.50" fill="#b8b8b8" text-anchor="end" textLength="25.00" lengthAdjust="spacingAndGlyphs" stroke="#b8b8b8" stroke-width="0.28">3750,0</text>
<text x="988.00" y="328.55" font-size="8.50" fill="#b8b8b8" text-anchor="end" textLength="25.00" lengthAdjust="spacingAndGlyphs" stroke="#b8b8b8" stroke-width="0.28">3500,0</text>
<text x="988.00" y="351.86" font-size="8.50" fill="#b8b8b8" text-anchor="end" textLength="25.00" lengthAdjust="spacingAndGlyphs" stroke="#b8b8b8" stroke-width="0.28">3250,0</text>
<text x="988.00" y="375.16" font-size="8.50" fill="#b8b8b8" text-anchor="end" textLength="25.00" lengthAdjust="spacingAndGlyphs" stroke="#b8b8b8" stroke-width="0.28">3000,0</text>
<text x="988.00" y="398.47" font-size="8.50" fill="#b8b8b8" text-anchor="end" textLength="25.00" lengthAdjust="spacingAndGlyphs" stroke="#b8b8b8" stroke-width="0.28">2750,0</text>
<text x="988.00" y="421.77" font-size="8.50" fill="#b8b8b8" text-anchor="end" textLength="25.00" lengthAdjust="spacingAndGlyphs" stroke="#b8b8b8" stroke-width="0.28">2500,0</text>
<text x="988.00" y="445.07" font-size="8.50" fill="#b8b8b8" text-anchor="end" textLength="25.00" lengthAdjust="spacingAndGlyphs" stroke="#b8b8b8" stroke-width="0.28">2250,0</text>
<text x="988.00" y="468.38" font-size="8.50" fill="#b8b8b8" text-anchor="end" textLength="25.00" lengthAdjust="spacingAndGlyphs" stroke="#b8b8b8" stroke-width="0.28">2000,0</text>
<text x="988.00" y="491.68" font-size="8.50" fill="#b8b8b8" text-anchor="end" textLength="25.00" lengthAdjust="spacingAndGlyphs" stroke="#b8b8b8" stroke-width="0.28">1750,0</text>
<text x="988.00" y="514.99" font-size="8.50" fill="#b8b8b8" text-anchor="end" textLength="25.00" lengthAdjust="spacingAndGlyphs" stroke="#b8b8b8" stroke-width="0.28">1500,0</text>
<text x="988.00" y="538.29" font-size="8.50" fill="#b8b8b8" text-anchor="end" textLength="25.00" lengthAdjust="spacingAndGlyphs" stroke="#b8b8b8" stroke-width="0.28">1250,0</text>
<text x="988.00" y="561.59" font-size="8.50" fill="#b8b8b8" text-anchor="end" textLength="25.00" lengthAdjust="spacingAndGlyphs" stroke="#b8b8b8" stroke-width="0.28">1000,0</text>
<path d="M957.8 274H990A1 1 0 0 1 991 275V292.8A1 1 0 0 1 990 293.8H957.8Z" fill="#089981"/>
<text x="987.80" y="281.90" font-size="7.70" fill="#ffffff" text-anchor="end" textLength="24.90" lengthAdjust="spacingAndGlyphs" stroke="#ffffff" stroke-width="0.28">4008,0</text>
<text x="963.00" y="290.80" font-size="7.70" fill="#ffffff" textLength="19.30" lengthAdjust="spacingAndGlyphs" stroke="#ffffff" stroke-width="0.28">1d 4h</text>
<text x="53.75" y="585.20" font-size="8.70" fill="#b8b8b8" text-anchor="middle" textLength="15.60" lengthAdjust="spacingAndGlyphs" stroke="#b8b8b8" stroke-width="0.28">Июл</text>
<text x="110.65" y="585.20" font-size="8.70" fill="#dcdcdc" text-anchor="middle" textLength="18.40" lengthAdjust="spacingAndGlyphs" stroke="#dcdcdc" stroke-width="0.42">2021</text>
<text x="167.50" y="585.20" font-size="8.70" fill="#b8b8b8" text-anchor="middle" textLength="15.60" lengthAdjust="spacingAndGlyphs" stroke="#b8b8b8" stroke-width="0.28">Июл</text>
<text x="224.00" y="585.20" font-size="8.70" fill="#dcdcdc" text-anchor="middle" textLength="18.40" lengthAdjust="spacingAndGlyphs" stroke="#dcdcdc" stroke-width="0.42">2022</text>
<text x="274.50" y="585.20" font-size="8.70" fill="#b8b8b8" text-anchor="middle" textLength="15.60" lengthAdjust="spacingAndGlyphs" stroke="#b8b8b8" stroke-width="0.28">Июл</text>
<text x="331.25" y="585.20" font-size="8.70" fill="#dcdcdc" text-anchor="middle" textLength="18.40" lengthAdjust="spacingAndGlyphs" stroke="#dcdcdc" stroke-width="0.42">2023</text>
<text x="388.30" y="585.20" font-size="8.70" fill="#b8b8b8" text-anchor="middle" textLength="15.60" lengthAdjust="spacingAndGlyphs" stroke="#b8b8b8" stroke-width="0.28">Июл</text>
<text x="445.10" y="585.20" font-size="8.70" fill="#dcdcdc" text-anchor="middle" textLength="18.40" lengthAdjust="spacingAndGlyphs" stroke="#dcdcdc" stroke-width="0.42">2024</text>
<text x="497.00" y="585.20" font-size="8.70" fill="#b8b8b8" text-anchor="middle" textLength="15.60" lengthAdjust="spacingAndGlyphs" stroke="#b8b8b8" stroke-width="0.28">Июл</text>
<text x="549.50" y="585.20" font-size="8.70" fill="#dcdcdc" text-anchor="middle" textLength="18.40" lengthAdjust="spacingAndGlyphs" stroke="#dcdcdc" stroke-width="0.42">2025</text>
<text x="606.25" y="585.20" font-size="8.70" fill="#b8b8b8" text-anchor="middle" textLength="15.60" lengthAdjust="spacingAndGlyphs" stroke="#b8b8b8" stroke-width="0.28">Июл</text>
<text x="663.60" y="585.20" font-size="8.70" fill="#dcdcdc" text-anchor="middle" textLength="18.40" lengthAdjust="spacingAndGlyphs" stroke="#dcdcdc" stroke-width="0.42">2026</text>
<text x="720.55" y="585.20" font-size="8.70" fill="#b8b8b8" text-anchor="middle" textLength="15.60" lengthAdjust="spacingAndGlyphs" stroke="#b8b8b8" stroke-width="0.28">Июл</text>
<text x="777.50" y="585.20" font-size="8.70" fill="#dcdcdc" text-anchor="middle" textLength="18.40" lengthAdjust="spacingAndGlyphs" stroke="#dcdcdc" stroke-width="0.42">2027</text>
<text x="834.25" y="585.20" font-size="8.70" fill="#b8b8b8" text-anchor="middle" textLength="15.60" lengthAdjust="spacingAndGlyphs" stroke="#b8b8b8" stroke-width="0.28">Июл</text>
<text x="890.75" y="585.20" font-size="8.70" fill="#dcdcdc" text-anchor="middle" textLength="18.40" lengthAdjust="spacingAndGlyphs" stroke="#dcdcdc" stroke-width="0.42">2028</text>
<text x="947.50" y="585.20" font-size="8.70" fill="#b8b8b8" text-anchor="middle" textLength="15.60" lengthAdjust="spacingAndGlyphs" stroke="#b8b8b8" stroke-width="0.28">Июл</text>
<text x="6.60" y="12.60" font-size="8.40" fill="#dcdcdc" textLength="292.20" lengthAdjust="spacingAndGlyphs" stroke="#dcdcdc" stroke-width="0.34">MONDIARA_Trading опубликовал(а) на TradingView.com, Май 07, 2025 20:38 UTC+3</text>
<text x="11.60" y="29.50" font-size="8.10" fill="#c8c8c8" textLength="93.90" lengthAdjust="spacingAndGlyphs" stroke="#c8c8c8" stroke-width="0.28">МКПАО ЯНДЕКС · 1H · RUS</text>
<text x="110.00" y="29.50" font-size="8.10" fill="#c8c8c8" textLength="19.30" lengthAdjust="spacingAndGlyphs" stroke="#c8c8c8" stroke-width="0.28">ОТКР</text>
<text x="129.30" y="29.50" font-size="8.10" fill="#22ab94" textLength="24.20" lengthAdjust="spacingAndGlyphs" stroke="#22ab94" stroke-width="0.28">3941,5</text>
<text x="157.50" y="29.50" font-size="8.10" fill="#c8c8c8" textLength="20.60" lengthAdjust="spacingAndGlyphs" stroke="#c8c8c8" stroke-width="0.28">МАКС</text>
<text x="178.10" y="29.50" font-size="8.10" fill="#22ab94" textLength="24.20" lengthAdjust="spacingAndGlyphs" stroke="#22ab94" stroke-width="0.28">4092,0</text>
<text x="206.60" y="29.50" font-size="8.10" fill="#c8c8c8" textLength="16.50" lengthAdjust="spacingAndGlyphs" stroke="#c8c8c8" stroke-width="0.28">МИН</text>
<text x="223.10" y="29.50" font-size="8.10" fill="#22ab94" textLength="24.20" lengthAdjust="spacingAndGlyphs" stroke="#22ab94" stroke-width="0.28">3814,0</text>
<text x="251.80" y="29.50" font-size="8.10" fill="#c8c8c8" textLength="17.90" lengthAdjust="spacingAndGlyphs" stroke="#c8c8c8" stroke-width="0.28">ЗАКР</text>
<text x="269.70" y="29.50" font-size="8.10" fill="#22ab94" textLength="24.00" lengthAdjust="spacingAndGlyphs" stroke="#22ab94" stroke-width="0.28">4008,0</text>
<text x="298.70" y="29.50" font-size="8.10" fill="#22ab94" textLength="54.80" lengthAdjust="spacingAndGlyphs" stroke="#22ab94" stroke-width="0.28">+102,5 (+2,62%)</text>
<text x="358.10" y="29.50" font-size="8.10" fill="#c8c8c8" textLength="24.50" lengthAdjust="spacingAndGlyphs" stroke="#c8c8c8" stroke-width="0.28">Объём</text>
<text x="382.60" y="29.50" font-size="8.10" fill="#22ab94" textLength="21.60" lengthAdjust="spacingAndGlyphs" stroke="#22ab94" stroke-width="0.28">2,21 M</text>
<text x="408.80" y="29.50" font-size="8.10" fill="#f23645" textLength="46.50" lengthAdjust="spacingAndGlyphs" stroke="#f23645" stroke-width="0.28">−5,0 (−0,12%)</text>
<path d="M6.2 599H11.2V605.4H9V601.8H6.2Z M16 599H18.8L16.6 605.4H13.8Z" fill="#ededed"/><circle cx="13.6" cy="600.5" r="1.25" fill="#ededed"/>
<text x="21.40" y="605.30" font-size="8.20" fill="#e6e6e6" textLength="45.60" lengthAdjust="spacingAndGlyphs" stroke="#e6e6e6" stroke-width="0.28">TradingView</text>
</svg></body></html>
